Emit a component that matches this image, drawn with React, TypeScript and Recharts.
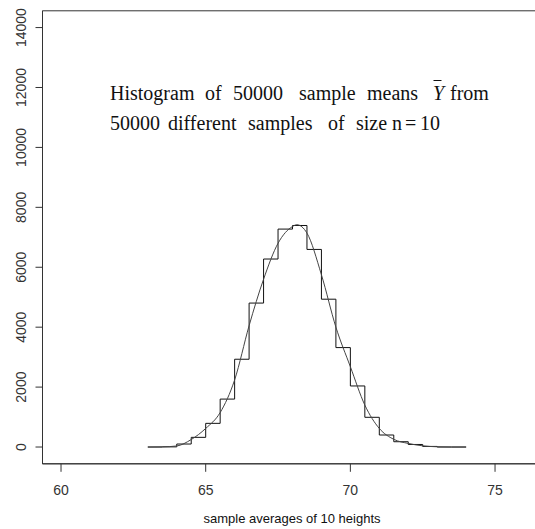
import React from "react";
import { ComposedChart, Line, XAxis, YAxis, ReferenceArea } from "recharts";

// Histogram bins (left edge, count) – drawn as a step line
const binStarts = [63, 63.5, 64, 64.5, 65, 65.5, 66, 66.5, 67, 67.5, 68, 68.5, 69, 69.5, 70, 70.5, 71, 71.5, 72, 72.5, 73, 73.5, 74];
const binCounts = [0, 5, 100, 323, 790, 1600, 2930, 4805, 6275, 7274, 7394, 6595, 4934, 3319, 2038, 992, 401, 177, 85, 20, 0, 0, 0];

// Smooth curve
const curveX = [63, 63.5, 64, 64.5, 65, 65.5, 66, 66.5, 67, 67.5, 68, 68.15, 68.5, 69, 69.5, 70, 70.5, 71, 71.5, 72, 72.5, 73, 73.5, 74];
const curveY = [0, 5, 35, 250, 620, 1150, 2240, 4050, 5600, 6800, 7360, 7420, 7140, 5750, 4000, 2680, 1400, 620, 257, 120, 40, 8, 0, 0];

const xTicks = [60, 65, 70, 75];
const yTicks = [0, 2000, 4000, 6000, 8000, 10000, 12000, 14000];
const xDomain: [number, number] = [59.36, 76.64];
const yDomain: [number, number] = [-560, 14560];

const titleLine1 = ["Histogram", "of", "50000", "sample", "means", "Y", "from"];
const titleLine2 = ["50000", "different", "samples", "of", "size", "n", "=", "10"];
const xLabel = "sample averages of 10 heights";

const histData = binStarts.map((x, i) => ({ x, y: binCounts[i] }));
const curveData = curveX.map((x, i) => ({ x, y: curveY[i] }));

const INK = "#333";
const SANS = "'Liberation Sans', Arial, sans-serif";
const SERIF = "'Liberation Serif', 'Times New Roman', serif";

const YTick = (props: any) => {
  const { x, y, payload } = props;
  return (
    <text x={x} y={y} transform={`rotate(-90, ${x}, ${y})`} textAnchor="middle" fill={INK} fontSize={14} fontFamily={SANS}>
      {payload.value}
    </text>
  );
};

const XTick = (props: any) => {
  const { x, y, payload } = props;
  return (
    <text x={x} y={y} dy={21} textAnchor="middle" fill={INK} fontSize={14} fontFamily={SANS}>
      {payload.value}
    </text>
  );
};

const line1X = [110, 205, 233, 299, 367, 433, 450];
const line2X = [110, 168, 248, 328, 356, 392, 405, 420];

export default function App() {
  return (
    <div style={{ position: "fixed", left: 0, top: 0, width: 535, height: 529, overflow: "hidden", background: "#fff" }}>
      <ComposedChart
        width={560}
        height={529}
        margin={{ top: 10.8, right: 17.5, bottom: 10, left: 0.5 }}
      >
        <XAxis
          dataKey="x"
          type="number"
          domain={xDomain}
          ticks={xTicks}
          allowDataOverflow
          tick={<XTick />}
          tickSize={8}
          tickMargin={2}
          height={55.2}
          stroke={INK}
          tickLine={{ stroke: INK }}
          axisLine={{ stroke: INK }}
        />
        <YAxis
          type="number"
          domain={yDomain}
          ticks={yTicks}
          allowDataOverflow
          tick={<YTick />}
          tickSize={7}
          tickMargin={9.5}
          width={42}
          stroke={INK}
          tickLine={{ stroke: INK }}
          axisLine={{ stroke: INK }}
        />
        <ReferenceArea x1={xDomain[0]} x2={xDomain[1]} y1={yDomain[0]} y2={yDomain[1]} fill="none" stroke={INK} strokeWidth={1} />
        <Line
          data={histData}
          dataKey="y"
          type="stepAfter"
          stroke="#111"
          strokeWidth={1}
          dot={false}
          isAnimationActive={false}
        />
        <Line
          data={curveData}
          dataKey="y"
          type="monotone"
          stroke="#444"
          strokeWidth={1}
          dot={false}
          isAnimationActive={false}
        />
      </ComposedChart>
      <svg width={535} height={529} style={{ position: "absolute", left: 0, top: 0, pointerEvents: "none" }}>
        {titleLine1.map((w, i) => (
          <text key={"a" + i} x={line1X[i]} y={100} fontSize={20} fontFamily={SERIF} fill="#111" fontStyle={w === "Y" ? "italic" : "normal"}>
            {w}
          </text>
        ))}
        <line x1={433.5} x2={441.5} y1={80.5} y2={80.5} stroke="#111" strokeWidth={1} />
        {titleLine2.map((w, i) => (
          <text key={"b" + i} x={line2X[i]} y={130} fontSize={20} fontFamily={SERIF} fill="#111">
            {w}
          </text>
        ))}
        <text x={292} y={523} textAnchor="middle" fontSize={13} fontFamily={SANS} fill="#111">
          {xLabel}
        </text>
      </svg>
    </div>
  );
}
